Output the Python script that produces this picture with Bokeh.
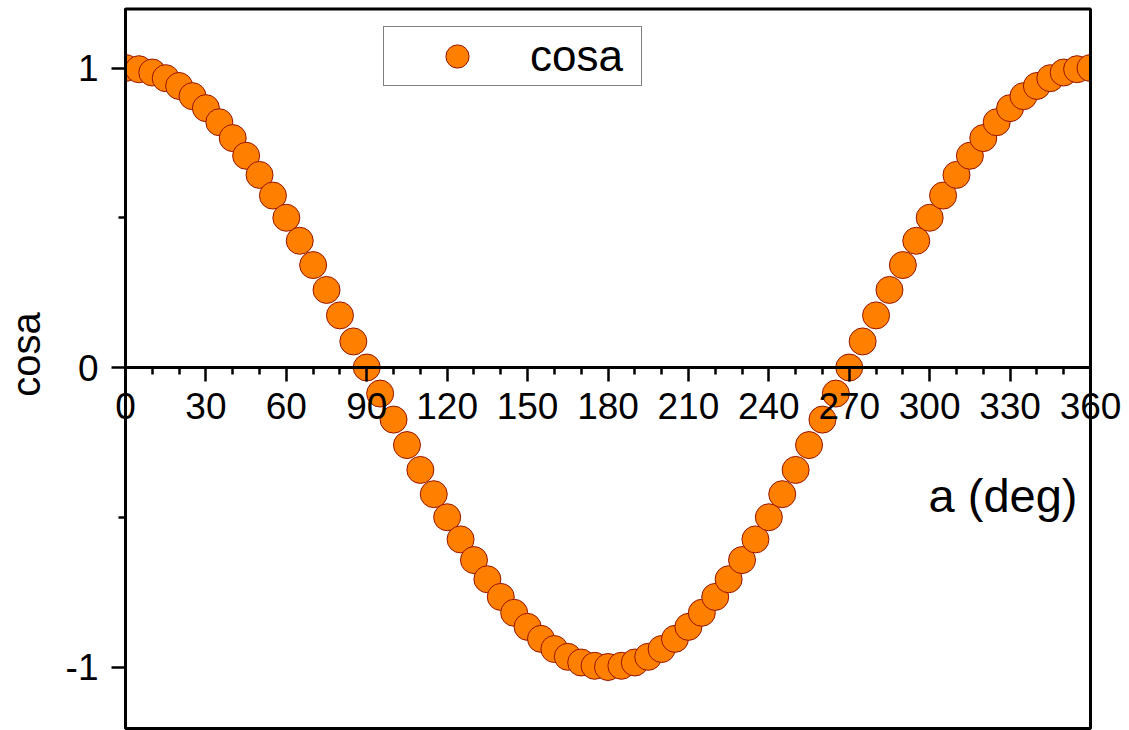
import math
from bokeh.plotting import figure
from bokeh.models import (Range1d, FixedTicker, LinearAxis, Label, Legend, LegendItem,
                          BoxAnnotation)
from bokeh.embed import file_html
from bokeh.resources import INLINE

# ---- data ----
angle_deg = [0, 5, 10, 15, 20, 25, 30, 35, 40, 45, 50, 55, 60, 65, 70, 75, 80, 85, 90,
             95, 100, 105, 110, 115, 120, 125, 130, 135, 140, 145, 150, 155, 160, 165, 170, 175, 180,
             185, 190, 195, 200, 205, 210, 215, 220, 225, 230, 235, 240, 245, 250, 255, 260, 265, 270,
             275, 280, 285, 290, 295, 300, 305, 310, 315, 320, 325, 330, 335, 340, 345, 350, 355, 360]
cosa = [1.000, 0.996, 0.985, 0.966, 0.940, 0.906, 0.866, 0.819, 0.766, 0.707, 0.643, 0.574, 0.500,
        0.423, 0.342, 0.259, 0.174, 0.087, 0.000,
        -0.087, -0.174, -0.259, -0.342, -0.423, -0.500, -0.574, -0.643, -0.707, -0.766, -0.819,
        -0.866, -0.906, -0.940, -0.966, -0.985, -0.996, -1.000,
        -0.996, -0.985, -0.966, -0.940, -0.906, -0.866, -0.819, -0.766, -0.707, -0.643, -0.574,
        -0.500, -0.423, -0.342, -0.259, -0.174, -0.087, 0.000,
        0.087, 0.174, 0.259, 0.342, 0.423, 0.500, 0.574, 0.643, 0.707, 0.766, 0.819, 0.866,
        0.906, 0.940, 0.966, 0.985, 0.996, 1.000]
x_major_ticks = [0, 30, 60, 90, 120, 150, 180, 210, 240, 270, 300, 330, 360]
x_tick_labels = ["0", "30", "60", "90", "120", "150", "180", "210", "240", "270", "300", "330", "360"]
x_minor_ticks = [10, 20, 40, 50, 70, 80, 100, 110, 130, 140, 160, 170, 190, 200,
                 220, 230, 250, 260, 280, 290, 310, 320, 340, 350]
y_major_ticks = [-1, 0, 1]
y_tick_labels = ["-1", "0", "1"]
y_minor_ticks = [-0.5, 0.5]
series_name = "cosa"
x_title = "a (deg)"
y_title = "cosa"
X_LO, X_HI = 0, 360            # data limits of the axis box
Y_LO, Y_HI = -1.205, 1.197

# ---- layout (pixels) ----
W, H = 1125, 730
BOX_L, BOX_R = 125, 1090        # box edges in canvas px
Y0_PX, PX_PER_Y = 367, 299.5    # canvas px of y = 0, px per y unit
FONT = "Liberation Sans"

px_per_x = (BOX_R - BOX_L) / (X_HI - X_LO)
x_start = X_LO - BOX_L / px_per_x
x_end = X_HI + (W - BOX_R) / px_per_x
y_end = Y0_PX / PX_PER_Y
y_start = -(H - Y0_PX) / PX_PER_Y

p = figure(width=W, height=H, output_backend="svg", toolbar_location=None,
           x_range=Range1d(x_start, x_end), y_range=Range1d(y_start, y_end),
           x_axis_location=None, y_axis_location=None,
           min_border_left=0, min_border_right=0, min_border_top=0, min_border_bottom=0)
p.grid.visible = False
p.outline_line_color = None
p.background_fill_color = "white"
p.border_fill_color = "white"

# data
r = p.scatter(angle_deg, cosa, size=27, fill_color="#FF8000", line_color="#961400", line_width=1)

# markers are cut at the box edges
for kw in (dict(right=X_LO), dict(left=X_HI)):
    p.add_layout(BoxAnnotation(fill_color="white", fill_alpha=1, line_alpha=0,
                               level="guide", **kw))


def style_axis(a, major, labels, minor):
    a.ticker = FixedTicker(ticks=major, minor_ticks=minor)
    a.major_label_overrides = {t: s for t, s in zip(major, labels)}
    a.axis_line_width = 3
    a.axis_line_color = "black"
    a.major_tick_line_width = 2.5
    a.minor_tick_line_width = 2.5
    a.major_tick_line_color = "black"
    a.minor_tick_line_color = "black"
    a.major_tick_out = 14
    a.major_tick_in = 0
    a.minor_tick_out = 7
    a.minor_tick_in = 0
    a.major_label_text_font = FONT
    a.major_label_text_font_size = "37px"
    a.major_label_text_color = "black"
    a.level = "overlay"


ay = LinearAxis(fixed_location=X_LO, bounds=(Y_LO, Y_HI))
style_axis(ay, y_major_ticks, y_tick_labels, y_minor_ticks)
ay.major_label_standoff = 13
p.add_layout(ay, "left")

ax = LinearAxis(fixed_location=0, bounds=(X_LO, X_HI))
style_axis(ax, x_major_ticks, x_tick_labels, x_minor_ticks)
ax.major_label_standoff = 11
p.add_layout(ax, "below")

# axis box
p.add_layout(BoxAnnotation(left=X_LO, right=X_HI, bottom=Y_LO, top=Y_HI,
                           fill_alpha=0, line_color="black", line_alpha=1, line_width=3,
                           level="overlay"))

# axis titles
p.add_layout(Label(x=360, y=0, x_offset=-13, y_offset=-128, text=x_title,
                   text_align="right", text_baseline="alphabetic", text_font=FONT,
                   text_font_size="47px", text_color="black"))
p.add_layout(Label(x=25, y=H - 354, x_units="screen", y_units="screen", angle=math.pi / 2,
                   text=y_title, text_align="center", text_baseline="middle", text_font=FONT,
                   text_font_size="40px", text_color="black"))

legend = Legend(items=[LegendItem(label=series_name, renderers=[r])],
                location=(383, H - 86), padding=0, margin=0, spacing=0,
                glyph_width=146, glyph_height=58, label_standoff=0, label_width=111,
                label_height=58,
                label_text_font=FONT, label_text_font_size="44px", label_text_color="black",
                border_line_color="black", border_line_width=1.5,
                background_fill_color="white", background_fill_alpha=1)
p.add_layout(legend)

open("out.html", "w").write(file_html(p, INLINE))
